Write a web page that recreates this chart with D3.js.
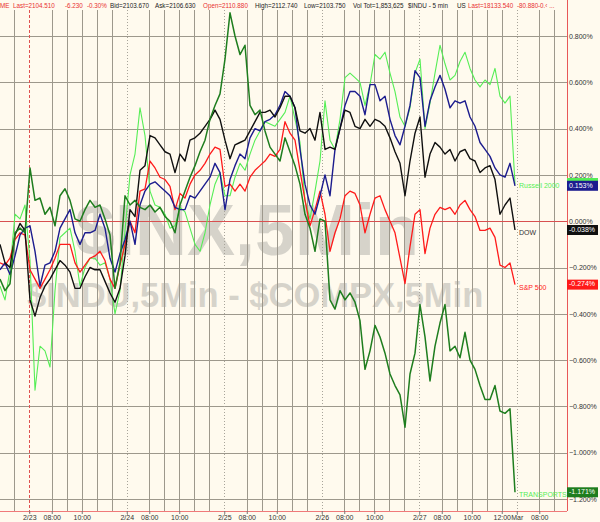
<!DOCTYPE html>
<html><head><meta charset="utf-8">
<script src="https://cdn.jsdelivr.net/npm/d3@7"></script>
<style>
html,body{margin:0;padding:0;background:#fffaee;}
svg{display:block;font-family:"Liberation Sans",Arial,sans-serif;}
</style>
</head><body>
<svg id="chart" width="600" height="522"></svg>
<script>
// ---------- DATA (percent change, sampled every 20 minutes of trading time) ----------
const sampleStepHours = 1/3;
const transports = [-0.25,-0.30,-0.27,-0.05,-0.03,-0.05,0.23,0.09,0.10,0.03,
 0.06,-0.02,0.11,0.14,0.09,0.01,0.00,0.05,0.09,0.06,
 0.07,0.01,-0.06,-0.29,-0.18,0.11,0.07,0.09,0.06,0.05,
 0.07,0.04,0.06,0.02,0.00,-0.05,0.07,0.13,0.19,0.24,
 0.30,0.35,0.44,0.50,0.55,0.70,0.90,0.80,0.72,0.76,
 0.50,0.46,0.48,0.39,0.32,0.29,0.26,0.36,0.30,0.24,
 0.16,0.03,-0.03,-0.13,0.01,0.00,-0.34,-0.38,-0.30,-0.34,
 -0.31,-0.35,-0.43,-0.64,-0.56,-0.45,-0.50,-0.57,-0.66,-0.71,
 -0.75,-0.89,-0.66,-0.57,-0.36,-0.50,-0.69,-0.54,-0.44,-0.36,
 -0.56,-0.54,-0.59,-0.48,-0.60,-0.64,-0.71,-0.77,-0.77,-0.71,
 -0.82,-0.83,-0.81,-1.171];
const russell2000 = [-0.28,-0.34,-0.21,0.03,0.01,0.07,-0.17,-0.73,-0.54,-0.56,
 -0.63,-0.30,-0.07,-0.05,-0.03,-0.13,-0.28,-0.20,-0.16,-0.16,
 -0.19,-0.18,-0.25,-0.40,-0.30,-0.04,0.20,0.29,0.49,0.37,
 0.13,0.07,0.06,0.03,-0.03,-0.02,0.06,0.04,-0.03,-0.10,
 -0.13,-0.05,0.07,0.16,0.21,0.11,0.11,0.19,0.25,0.22,
 0.29,0.35,0.39,0.43,0.42,0.41,0.44,0.47,0.54,0.44,
 0.34,0.09,0.01,0.13,0.26,0.52,0.35,0.31,0.44,0.62,
 0.64,0.62,0.60,0.50,0.59,0.72,0.70,0.73,0.64,0.56,
 0.45,0.41,0.49,0.64,0.70,0.40,0.51,0.64,0.76,0.68,
 0.61,0.63,0.69,0.73,0.66,0.61,0.58,0.61,0.59,0.66,
 0.54,0.51,0.54,0.16];
const nasdaq = [-0.21,-0.18,-0.23,-0.15,-0.06,-0.03,-0.02,-0.13,-0.28,-0.19,
 -0.18,-0.13,-0.03,0.01,0.05,-0.05,-0.10,-0.05,-0.05,-0.04,
 0.03,-0.03,-0.16,-0.22,-0.14,-0.08,0.00,-0.10,0.07,0.13,
 0.16,0.17,0.15,0.13,0.11,0.06,0.05,0.05,0.11,0.10,
 0.13,0.16,0.19,0.25,0.21,0.05,0.18,0.24,0.29,0.27,
 0.36,0.40,0.39,0.43,0.44,0.46,0.50,0.56,0.54,0.49,
 0.31,0.16,0.07,0.03,0.11,0.20,0.11,0.31,0.40,0.50,
 0.56,0.56,0.54,0.46,0.59,0.59,0.52,0.54,0.44,0.37,
 0.33,0.41,0.50,0.65,0.62,0.41,0.52,0.58,0.63,0.57,
 0.49,0.52,0.51,0.52,0.45,0.41,0.34,0.31,0.28,0.23,
 0.20,0.19,0.25,0.153];
const sp500 = [-0.18,-0.19,-0.16,-0.08,-0.05,-0.06,-0.21,-0.25,-0.29,-0.25,
 -0.21,-0.16,-0.10,-0.10,-0.10,-0.18,-0.22,-0.19,-0.16,-0.15,
 -0.13,-0.17,-0.25,-0.29,-0.19,-0.10,0.00,-0.05,0.13,0.14,
 0.26,0.23,0.19,0.18,0.15,0.05,0.12,0.10,0.16,0.20,
 0.22,0.25,0.29,0.32,0.31,0.15,0.16,0.13,0.16,0.13,
 0.19,0.22,0.24,0.26,0.29,0.28,0.31,0.43,0.38,0.35,
 0.22,0.09,-0.02,0.05,0.13,0.03,-0.13,-0.05,0.01,0.11,
 0.13,0.12,0.07,-0.05,0.03,0.10,0.11,0.05,0.00,-0.05,
 -0.16,-0.27,-0.11,0.03,0.05,-0.14,-0.03,0.03,0.06,0.05,
 0.06,0.03,0.07,0.09,0.05,0.02,-0.04,-0.04,-0.03,-0.07,
 -0.19,-0.20,-0.18,-0.274];
const dow = [-0.10,-0.18,-0.20,-0.06,-0.01,-0.04,-0.34,-0.41,-0.33,-0.28,
 -0.25,-0.21,-0.17,-0.19,-0.22,-0.29,-0.29,-0.24,-0.20,-0.21,
 -0.21,-0.26,-0.31,-0.35,-0.29,-0.15,0.05,0.02,0.22,0.24,
 0.37,0.36,0.33,0.30,0.29,0.21,0.29,0.26,0.35,0.36,
 0.38,0.41,0.44,0.48,0.44,0.35,0.27,0.33,0.34,0.35,
 0.39,0.43,0.47,0.47,0.48,0.45,0.49,0.54,0.54,0.49,
 0.39,0.38,0.40,0.35,0.47,0.31,0.32,0.31,0.40,0.48,
 0.47,0.41,0.40,0.44,0.41,0.44,0.43,0.41,0.36,0.30,
 0.25,0.11,0.26,0.38,0.45,0.19,0.29,0.34,0.32,0.29,
 0.31,0.26,0.30,0.31,0.27,0.26,0.21,0.23,0.24,0.18,
 0.03,0.07,0.10,-0.038];

const seriesNames  = ["Russell 2000","S&P 500","NASDAQ","DOW","TRANSPORTS"];
const seriesValues = [russell2000, sp500, nasdaq, dow, transports];
const seriesColors = ["#55ee55","#ff1a1a","#1c1c8e","#101010","#1e7d1e"];
const seriesWidths = [1.1, 1.3, 1.4, 1.4, 1.5];

// time axis (hours of trading time from the left edge)
const dayStartHours = [1.95, 8.45, 14.95, 21.45, 27.95, 34.45];
const tickHours  = [1.95,3.45,5.45, 8.45,9.95,11.95, 14.95,16.45,18.45, 21.45,22.95,24.95, 27.95,29.45,31.45,33.45, 34.45,35.95];
const tickLabels = ["2/23","08:00","10:00","2/24","08:00","10:00","2/25","08:00","10:00","2/26","08:00","10:00","2/27","08:00","10:00","12:00","Mar","08:00"];
const yTickValues = [0.8,0.6,0.4,0.2,0,-0.2,-0.4,-0.6,-0.8,-1.0,-1.2];

// right-side value badges
const badgeValues = [0.165, 0.153, -0.038, -0.274, -1.171];
const badgeTexts  = ["", "0.153%", "-0.038%", "-0.274%", "-1.171%"];
const badgeColors = ["#55ee55", "#1c1c8e", "#101010", "#ff1a1a", "#1e7d1e"];

// header quote line
const headerTexts  = ["ME","Last=2104.510","-6.230","-0.30%","Bid=2103.670","Ask=2106.630","Open=2110.880","High=2112.740","Low=2103.750","Vol Tot=1,853,625","$INDU - 5 min","US","Last=18133.540","-80.880","-0.\u2039 ..."];
const headerRed    = [1,1,1,1,0,0,1,0,0,0,0,0,1,1,1];

// ---------- LAYOUT ----------
const headerX = [0,13,65,87,110,155,203,255,304,353,408,457,468,517,538];
const plotRight = 567, plotTop = 10, plotBottom = 511;
const bg = "#fffaee", gridColor = "#9d988c";

const svg = d3.select("#chart");
svg.append("rect").attr("width",600).attr("height",522).attr("fill",bg);

const x = d3.scaleLinear().domain([0, 37.8]).range([0, plotRight]);
const y = d3.scaleLinear().domain([-1.2, 0.8]).range([499, 36]);

// watermark
const wm = svg.append("g").attr("fill","#d6d3ca").attr("font-weight","bold")
  .attr("font-family","'Liberation Sans',Arial,sans-serif");
wm.append("text").attr("x",75).attr("y",255).attr("font-size",72).text("$INX,5Min");
wm.append("text").attr("x",27).attr("y",307).attr("font-size",34.5).text("$INDU,5Min - $COMPX,5Min");

// vertical hourly grid
const gridHours = [dayStartHours[0]-1];
dayStartHours.forEach(d => [1.5,2.5,3.5,4.5,5.5].forEach(o => { if (d+o < 37.8) gridHours.push(d+o); }));
svg.append("g").selectAll("line").data(gridHours).join("line")
  .attr("x1", d => Math.round(x(d))+0.5).attr("x2", d => Math.round(x(d))+0.5)
  .attr("y1", plotTop).attr("y2", plotBottom)
  .attr("stroke", gridColor).attr("stroke-width",1);

// horizontal grid
svg.append("g").selectAll("line").data(yTickValues).join("line")
  .attr("x1",0).attr("x2",plotRight)
  .attr("y1", d => Math.round(y(d))+0.5).attr("y2", d => Math.round(y(d))+0.5)
  .attr("stroke", d => d === 0 ? "#d85050" : gridColor).attr("stroke-width",1);

// day separators
svg.append("g").selectAll("line").data(dayStartHours).join("line")
  .attr("x1", d => Math.round(x(d))+0.5).attr("x2", d => Math.round(x(d))+0.5)
  .attr("y1", plotTop).attr("y2", plotBottom+4)
  .attr("stroke", (d,i) => i===0 ? "#e05050" : "#a8a49a")
  .attr("stroke-dasharray", (d,i) => i===0 ? "3,2" : "1,2")
  .attr("stroke-width",1);

// series lines
svg.append("clipPath").attr("id","clip").append("rect")
  .attr("x",0).attr("y",plotTop).attr("width",plotRight).attr("height",plotBottom-plotTop);
const line = d3.line().x((d,i) => x(i*sampleStepHours)).y(d => y(d));
const lines = svg.append("g").attr("clip-path","url(#clip)");
seriesValues.forEach((vals,k) => {
  lines.append("path").datum(vals).attr("d", line)
    .attr("fill","none").attr("stroke", seriesColors[k])
    .attr("stroke-width", seriesWidths[k]).attr("stroke-linejoin","round");
});

// end labels
const lastH = (transports.length-1)*sampleStepHours;
const endLab = [
  {t:"Russell 2000", v:russell2000[russell2000.length-1], c:"#55ee55", dy:2},
  {t:"DOW", v:dow[dow.length-1], c:"#333333", dy:3},
  {t:"S&P 500", v:sp500[sp500.length-1], c:"#ff1a1a", dy:4},
  {t:"TRANSPORTS", v:transports[transports.length-1], c:"#55ee55", dy:3}
];
svg.append("g").selectAll("text").data(endLab).join("text")
  .attr("x", x(lastH)+4).attr("y", d => y(d.v)+d.dy)
  .attr("dominant-baseline","middle").attr("font-size",7)
  .attr("fill", d => d.c).text(d => d.t);

// borders
svg.append("line").attr("x1",plotRight+0.5).attr("x2",plotRight+0.5).attr("y1",0).attr("y2",plotBottom)
  .attr("stroke","#e85858").attr("stroke-width",1);
svg.append("line").attr("x1",0).attr("x2",plotRight).attr("y1",plotBottom+0.5).attr("y2",plotBottom+0.5)
  .attr("stroke","#f07a7a").attr("stroke-width",1.2);

// right axis
const yAxis = d3.axisRight(y).tickValues(yTickValues).tickSize(0).tickPadding(0)
  .tickFormat(d => d3.format(".3f")(d) + "%");
const ya = svg.append("g").attr("transform",`translate(${plotRight+2},0)`).call(yAxis);
ya.select(".domain").remove();
ya.selectAll("text").attr("font-size",7).attr("fill","#333").attr("font-family","'Liberation Sans',Arial,sans-serif");

// bottom axis
const xAxis = d3.axisBottom(x).tickValues(tickHours).tickSize(3).tickPadding(1)
  .tickFormat((d,i) => tickLabels[i]);
const xa = svg.append("g").attr("transform",`translate(0,${plotBottom})`).call(xAxis);
xa.select(".domain").remove();
xa.selectAll("line").attr("stroke","#777");
xa.selectAll("text").attr("font-size",7).attr("fill","#333").attr("font-family","'Liberation Sans',Arial,sans-serif");

// badges
const bg2 = svg.append("g");
badgeValues.forEach((v,i) => {
  const yy = y(v);
  bg2.append("rect").attr("x",plotRight).attr("y",yy-5).attr("width",31).attr("height",10)
    .attr("fill", badgeColors[i]);
  if (badgeTexts[i]) bg2.append("text").attr("x",plotRight+2).attr("y",yy)
    .attr("dominant-baseline","middle").attr("font-size",7).attr("fill","#fff")
    .text(badgeTexts[i]);
});

// header
svg.append("g").selectAll("text").data(headerTexts).join("text")
  .attr("x",(d,i)=>headerX[i]).attr("y",6.5)
  .attr("dominant-baseline","middle").attr("font-size",6.3)
  .attr("fill",(d,i)=> headerRed[i] ? "#e83030" : "#222")
  .text(d=>d);
</script>
</body></html>
